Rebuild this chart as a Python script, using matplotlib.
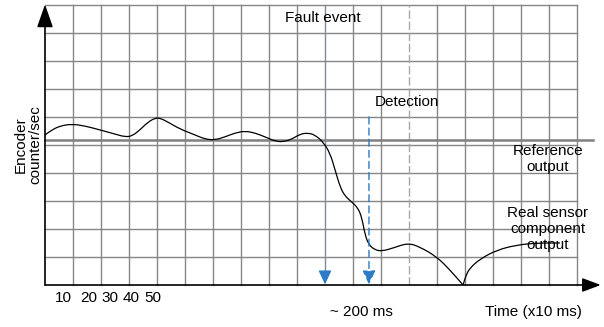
import matplotlib
matplotlib.use('Agg')
import matplotlib.pyplot as plt
from matplotlib.path import Path
from matplotlib.patches import PathPatch

plt.rcParams['font.family'] = ['Liberation Sans', 'DejaVu Sans']

# time in grid cells (x10 ms per tick step), signal in grid cells
time = [0, 0.25, 0.54, 0.96, 1.43, 1.96, 2.5, 2.86, 3.11, 3.39, 3.68, 3.93,
        4.11, 4.39, 4.82, 5.36, 5.71, 6.07, 6.43, 6.79, 7.14, 7.5, 7.86,
        8.21, 8.5, 8.82, 9.11, 9.39, 9.64, 9.93, 10.18, 10.36, 10.54, 10.71,
        10.96, 11.18, 11.32, 11.43, 11.57, 11.79, 12.04, 12.43, 12.96, 13.39,
        14.0, 14.46, 14.93, 15.04, 15.18, 15.54, 16.14, 16.86, 17.57, 18.39]
sensor = [5.36, 5.54, 5.68, 5.75, 5.68, 5.54, 5.39, 5.29, 5.32, 5.54, 5.82,
          5.96, 5.96, 5.82, 5.57, 5.36, 5.21, 5.18, 5.29, 5.43, 5.5, 5.43,
          5.29, 5.14, 5.11, 5.21, 5.39, 5.43, 5.36, 5.11, 4.71, 4.11, 3.5,
          3.18, 2.96, 2.75, 2.39, 1.79, 1.43, 1.25, 1.21, 1.32, 1.5, 1.36,
          1.0, 0.54, 0.0, 0.36, 0.61, 0.93, 1.25, 1.43, 1.5, 1.5]
cusp_index = 46
reference_level = 5.18
fault_time = 10.0
detect_time = 11.57
tick_labels = ['10', '20', '30', '40', '50']
tick_pos = [0.64, 1.57, 2.32, 3.07, 3.86]

n_cols, n_rows = 19, 10
grid_c = '#858585'
blue = '#2b7bc6'


def smooth_path(xs, ys):
    # quadratic bezier through midpoints, data points act as control points
    pts = list(zip(xs, ys))
    verts = [pts[0]]
    codes = [Path.MOVETO]
    mid = lambda a, b: ((a[0] + b[0]) / 2, (a[1] + b[1]) / 2)
    verts.append(mid(pts[0], pts[1]))
    codes.append(Path.LINETO)
    for i in range(1, len(pts) - 1):
        verts += [pts[i], mid(pts[i], pts[i + 1])]
        codes += [Path.CURVE3, Path.CURVE3]
    verts.append(pts[-1])
    codes.append(Path.LINETO)
    return Path(verts, codes)


fig = plt.figure(figsize=(6.04, 3.27), dpi=100)
ax = fig.add_axes([0, 0, 1, 1])
ax.set_xlim(-45 / 28, 559 / 28)
ax.set_ylim(-42 / 28, 285 / 28)
ax.axis('off')

# grid
for i in range(1, n_rows + 1):
    ax.plot([0, n_cols], [i, i], color=grid_c, lw=1.0, zorder=1)
for j in range(1, n_cols + 1):
    if j == 13:
        ax.plot([j, j], [0, n_rows], color='#a8a8a8', lw=1.0, ls=(0, (6, 2)), zorder=1)
    elif j == 10:
        continue
    else:
        ax.plot([j, j], [0, n_rows], color=grid_c, lw=1.0, zorder=1)

# reference output
ax.plot([0, 19.57], [reference_level] * 2, color='#808080', lw=1.8, zorder=2)

# sensor output, two smooth pieces meeting at the cusp
for sl in (slice(0, cusp_index + 1), slice(cusp_index, None)):
    ax.add_patch(PathPatch(smooth_path(time[sl], sensor[sl]), fill=False,
                           ec='black', lw=0.9, zorder=3))

# axes with arrows
ax.annotate('', xy=(19.85, 0), xytext=(0, 0),
            arrowprops=dict(arrowstyle='-|>,head_length=0.8,head_width=0.3',
                            mutation_scale=14, color='black', lw=1.2, shrinkA=0, shrinkB=0),
            zorder=4)
ax.annotate('', xy=(0, 10.02), xytext=(0, 0),
            arrowprops=dict(arrowstyle='-|>,head_length=1.0,head_width=0.35',
                            mutation_scale=14, color='black', lw=1.2, shrinkA=0, shrinkB=0),
            zorder=4)

# fault and detection markers
ax.plot([fault_time] * 2, [0.3, n_rows], color='#7d8a9c', lw=1.0, zorder=2)
ax.annotate('', xy=(fault_time, 0.02), xytext=(fault_time, 0.5),
            arrowprops=dict(arrowstyle='-|>,head_length=0.6,head_width=0.28',
                            mutation_scale=14, color=blue, lw=1.0,
                            shrinkA=0, shrinkB=0),
            zorder=3)
ax.annotate('', xy=(detect_time, 0.02), xytext=(detect_time, 6.0),
            arrowprops=dict(arrowstyle='-|>,head_length=0.6,head_width=0.28',
                            mutation_scale=14, color=blue, lw=1.0, ls=(0, (5, 3)),
                            shrinkA=0, shrinkB=0),
            zorder=3)

fs = 11
ax.text(8.57, 9.54, 'Fault event', fontsize=fs, ha='left', va='center', zorder=5)
ax.text(11.79, 6.54, 'Detection', fontsize=fs, ha='left', va='center', zorder=5)
ax.text(17.96, 4.5, 'Reference\noutput', fontsize=fs, ha='center', va='center',
        linespacing=1.15, zorder=5)
ax.text(17.96, 2.0, 'Real sensor\ncomponent\noutput', fontsize=fs, ha='center',
        va='center', linespacing=1.15, zorder=5)
ax.text(-0.61, 5.0, 'Encoder\ncounter/sec', fontsize=fs, rotation=90, ha='center',
        va='center', linespacing=1.1, zorder=5)
for lbl, p in zip(tick_labels, tick_pos):
    ax.text(p, -0.46, lbl, fontsize=fs, ha='center', va='center')
ax.text(11.29, -0.96, '~ 200 ms', fontsize=fs, ha='center', va='center')
ax.text(17.46, -0.96, 'Time (x10 ms)', fontsize=fs, ha='center', va='center')

plt.savefig('out.png', dpi=100)
